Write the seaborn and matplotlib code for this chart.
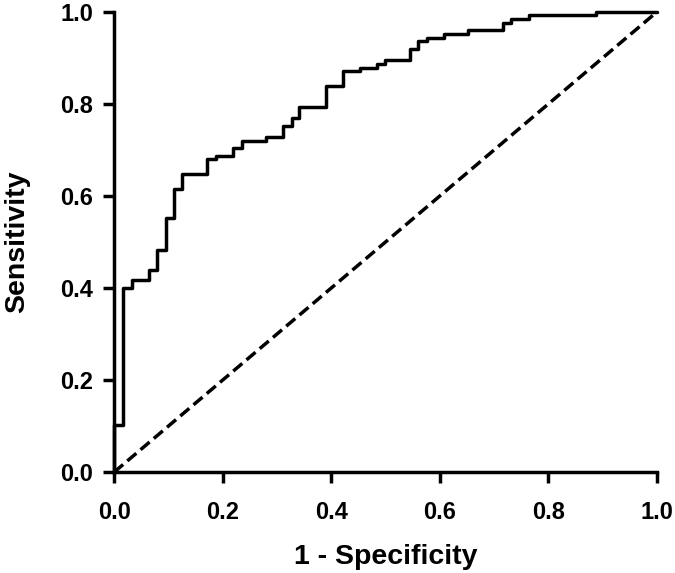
import matplotlib
matplotlib.use("Agg")
import matplotlib.pyplot as plt
import seaborn as sns
import pandas as pd

# ROC curve corners (top of each vertical step)
fpr = [0.0, 0.0, 0.017, 0.033, 0.065, 0.080, 0.095, 0.110, 0.125, 0.172, 0.187,
       0.220, 0.235, 0.280, 0.312, 0.327, 0.341, 0.390, 0.421, 0.453, 0.484,
       0.499, 0.545, 0.560, 0.576, 0.608, 0.652, 0.717, 0.732, 0.764, 0.888, 1.0]
tpr = [0.0, 0.102, 0.400, 0.417, 0.440, 0.483, 0.552, 0.615, 0.648, 0.680, 0.688,
       0.705, 0.720, 0.729, 0.752, 0.769, 0.793, 0.839, 0.872, 0.879, 0.887,
       0.896, 0.920, 0.936, 0.944, 0.953, 0.960, 0.977, 0.985, 0.993, 1.0, 1.0]
ref_x = [0.0, 1.0]
ref_y = [0.0, 1.0]
ticks = [0.0, 0.2, 0.4, 0.6, 0.8, 1.0]

sns.set_style("ticks")
plt.rcParams['font.family'] = ['Liberation Sans', 'DejaVu Sans']
plt.rcParams['font.weight'] = 'bold'
plt.rcParams['text.color'] = 'black'
plt.rcParams['axes.labelcolor'] = 'black'
plt.rcParams['axes.edgecolor'] = 'black'

fig = plt.figure(figsize=(6.75, 5.73), dpi=100)
ax = fig.add_axes([0.169, 0.176, 0.804, 0.803])

df = pd.DataFrame({'fpr': fpr, 'tpr': tpr})
sns.lineplot(data=df, x='fpr', y='tpr', sort=False, estimator=None,
             drawstyle='steps-post', color='black', linewidth=2.5,
             clip_on=False, ax=ax)
sns.lineplot(x=ref_x, y=ref_y, color='black', linewidth=2.5,
             linestyle=(0, (3.4, 1.6)), clip_on=False, ax=ax)

ax.set_xlim(0, 1)
ax.set_ylim(0, 1)
ax.set_xticks(ticks)
ax.set_yticks(ticks)
ax.set_xticklabels([f'{t:.1f}' for t in ticks])
ax.set_yticklabels([f'{t:.1f}' for t in ticks])
for s in ['top', 'right']:
    ax.spines[s].set_visible(False)
for s in ['left', 'bottom']:
    ax.spines[s].set_linewidth(2.5)
ax.tick_params(axis='both', length=8, width=2.5, labelsize=17, colors='black')
ax.tick_params(axis='x', pad=13)
ax.tick_params(axis='y', pad=7)
for lab in ax.get_xticklabels() + ax.get_yticklabels():
    lab.set_fontweight('bold')
ax.set_xlabel('1 - Specificity', fontsize=20.5, fontweight='bold', labelpad=14)
ax.set_ylabel('Sensitivity', fontsize=20.5, fontweight='bold', labelpad=22)

fig.savefig('out.png', dpi=100)
